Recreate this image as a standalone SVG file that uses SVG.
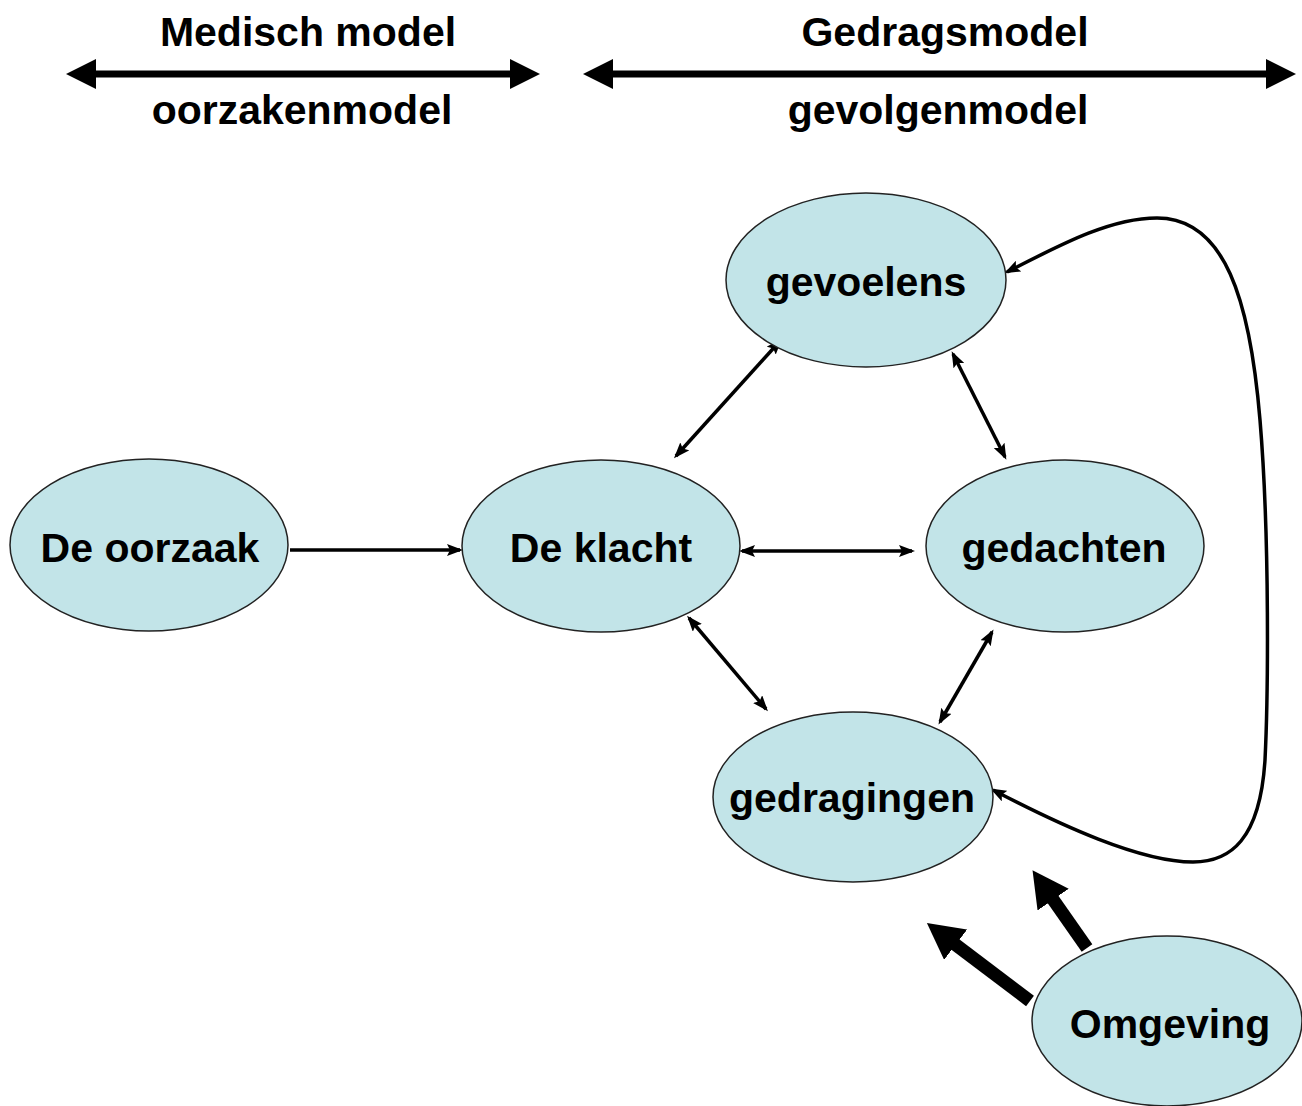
<svg xmlns="http://www.w3.org/2000/svg" width="1302" height="1106" viewBox="0 0 1302 1106">
<style>
.n ellipse{fill:#c2e4e8;stroke:#222;stroke-width:1.5}
text{font-family:"Liberation Sans",Arial,sans-serif;font-weight:bold;font-size:41px;fill:#000;text-anchor:middle}
.thin{stroke:#000;stroke-width:3.5;fill:none}
.top{stroke:#000;stroke-width:7;fill:none}
.thick{stroke:#000;stroke-width:13;fill:none}
</style>
<defs>
<marker id="a" viewBox="0 0 16 12" refX="13" refY="6" markerWidth="16" markerHeight="12" markerUnits="userSpaceOnUse" orient="auto-start-reverse"><path d="M0,0 L16,6 L0,12 L3,6 z" fill="#000"/></marker>
<marker id="b" viewBox="0 0 30 30" refX="1" refY="15" markerWidth="30" markerHeight="30" markerUnits="userSpaceOnUse" orient="auto-start-reverse"><path d="M0,0 L30,15 L0,30 z" fill="#000"/></marker>
<marker id="c" viewBox="0 0 36 38" refX="2" refY="19" markerWidth="36" markerHeight="38" markerUnits="userSpaceOnUse" orient="auto"><path d="M0,0 L36,19 L0,38 z" fill="#000"/></marker>
</defs>
<g id="headers">
<text x="308" y="46">Medisch model</text>
<text x="302" y="124">oorzakenmodel</text>
<text x="945" y="46">Gedragsmodel</text>
<text x="938" y="124">gevolgenmodel</text>
</g>
<g id="connectors">
<line class="top" x1="95" y1="74" x2="511" y2="74" marker-start="url(#b)" marker-end="url(#b)"/>
<line class="top" x1="612" y1="74" x2="1267" y2="74" marker-start="url(#b)" marker-end="url(#b)"/>
<line class="thin" x1="290" y1="550" x2="460" y2="550" marker-end="url(#a)"/>
<line class="thin" x1="742" y1="551" x2="912" y2="551" marker-start="url(#a)" marker-end="url(#a)"/>
<line class="thin" x1="676" y1="456" x2="780" y2="341" marker-start="url(#a)" marker-end="url(#a)"/>
<line class="thin" x1="953" y1="354" x2="1005" y2="457" marker-start="url(#a)" marker-end="url(#a)"/>
<line class="thin" x1="689" y1="618" x2="766" y2="709" marker-start="url(#a)" marker-end="url(#a)"/>
<line class="thin" x1="992" y1="632" x2="940" y2="722" marker-start="url(#a)" marker-end="url(#a)"/>
<path class="thin" d="M1007,272 C1060,245 1110,218 1157,218 C1225,218 1250,300 1260,420 C1270,540 1268,700 1265,760 C1260,840 1230,862 1193,862 C1140,862 1060,825 993,790" marker-start="url(#a)" marker-end="url(#a)"/>
<line class="thick" x1="1087" y1="948" x2="1052" y2="898" marker-end="url(#c)"/>
<line class="thick" x1="1030" y1="1001" x2="954" y2="943.5" marker-end="url(#c)"/>
</g>
<g id="oorzaak" class="n"><ellipse cx="149" cy="545" rx="139" ry="86"/><text x="150" y="562">De oorzaak</text></g>
<g id="klacht" class="n"><ellipse cx="601" cy="546" rx="139" ry="86"/><text x="601" y="562">De klacht</text></g>
<g id="gevoelens" class="n"><ellipse cx="866" cy="280" rx="140" ry="87"/><text x="866" y="296">gevoelens</text></g>
<g id="gedachten" class="n"><ellipse cx="1065" cy="546" rx="139" ry="86"/><text x="1064" y="562">gedachten</text></g>
<g id="gedragingen" class="n"><ellipse cx="853" cy="797" rx="140" ry="85"/><text x="852" y="812">gedragingen</text></g>
<g id="omgeving" class="n"><ellipse cx="1167" cy="1021" rx="135" ry="85"/><text x="1170" y="1038">Omgeving</text></g>
</svg>
